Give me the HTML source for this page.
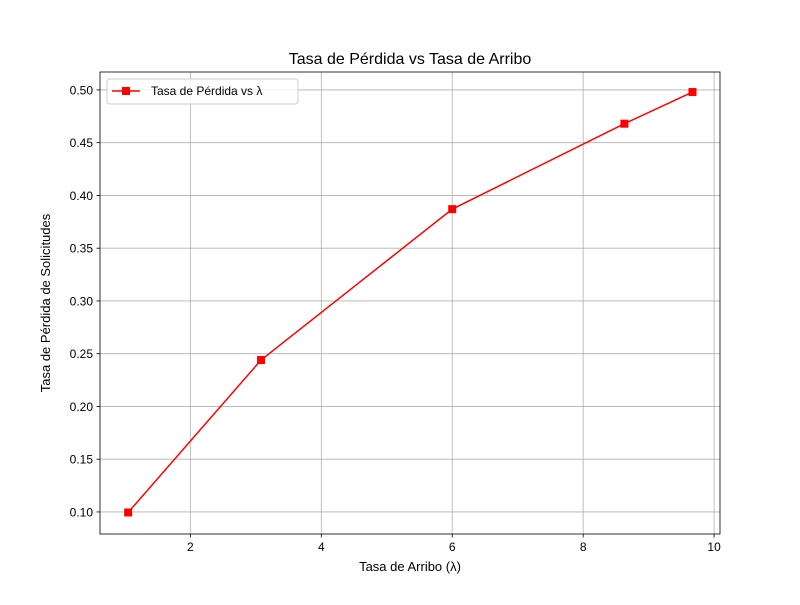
<!DOCTYPE html>
<html><head><meta charset="utf-8"><style>body{margin:0;background:#fff}svg{font-family:"Liberation Sans","DejaVu Sans",sans-serif}</style></head>
<body>
<svg id="chart" width="800" height="600" xmlns="http://www.w3.org/2000/svg"></svg>
<script>
const xValues = [1.05, 3.08, 6.0, 8.63, 9.67];
const yValues = [0.0995, 0.244, 0.387, 0.468, 0.498];
const xTicks = [2, 4, 6, 8, 10];
const yTicks = [0.10, 0.15, 0.20, 0.25, 0.30, 0.35, 0.40, 0.45, 0.50];
const L=100,R=720,T=72,B=534;
const xmin=0.62,xmax=10.09,ymin=0.0791,ymax=0.517;
const sx=v=>L+(v-xmin)/(xmax-xmin)*(R-L);
const sy=v=>B-(v-ymin)/(ymax-ymin)*(B-T);
const svg=document.getElementById('chart');
const NS='http://www.w3.org/2000/svg';
function mk(tag,attrs,txt){const e=document.createElementNS(NS,tag);for(const k in attrs)e.setAttribute(k,attrs[k]);if(txt!==undefined)e.textContent=txt;svg.appendChild(e);return e;}
xTicks.forEach(t=>{const x=sx(t);
 let g=mk('line',{x1:x,x2:x,y1:T,y2:B,stroke:'#b0b0b0','stroke-width':0.8});
 
 
 let k=mk('line',{x1:x,x2:x,y1:B,y2:B+3.5,stroke:'#000','stroke-width':0.8});
 
 
 let l=mk('text',{x:x,y:B+17,'font-size':12,'text-anchor':'middle'},String(t));
 
 
});
yTicks.forEach(t=>{const y=sy(t);
 let g=mk('line',{x1:L,x2:R,y1:y,y2:y,stroke:'#b0b0b0','stroke-width':0.8});
 
 
 let k=mk('line',{x1:L-3.5,x2:L,y1:y,y2:y,stroke:'#000','stroke-width':0.8});
 
 
 let l=mk('text',{x:L-7,y:y+4.5,'font-size':12,'text-anchor':'end'},t.toFixed(2));
 
 
});
let line=mk('polyline',{points:xValues.map((x,i)=>sx(x)+','+sy(yValues[i])).join(' '),fill:'none',stroke:'#ff0000','stroke-width':1.5});


xValues.forEach((x,i)=>{let m=mk('rect',{x:sx(x)-4,y:sy(yValues[i])-4,width:8,height:8,fill:'#ff0000'});
 
 });
let fr=mk('rect',{x:L,y:T,width:R-L,height:B-T,fill:'none',stroke:'#000','stroke-width':0.8});


let tt=mk('text',{x:410,y:64,'font-size':16,'text-anchor':'middle'},'Tasa de Pérdida vs Tasa de Arribo');


let xt=mk('text',{x:410,y:571,'font-size':13,'text-anchor':'middle'},'Tasa de Arribo (λ)');


let yt=mk('text',{x:50,y:303,'font-size':13,'text-anchor':'middle',transform:'rotate(-90 50 303)'},'Tasa de Pérdida de Solicitudes');


let lg=mk('rect',{x:107,y:79,width:191,height:25,rx:3,fill:'#fff','fill-opacity':0.8,stroke:'#ccc'});


let ll=mk('line',{x1:112,x2:140,y1:91,y2:91,stroke:'#ff0000','stroke-width':1.5});


let lm=mk('rect',{x:122,y:87,width:8,height:8,fill:'#ff0000'});


let lt=mk('text',{x:151,y:95,'font-size':12},'Tasa de Pérdida vs λ');


</script>
</body></html>
